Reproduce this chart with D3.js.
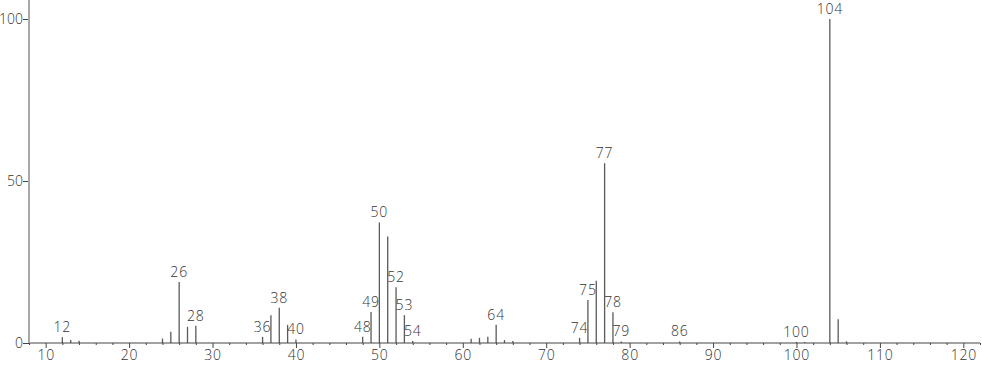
<!DOCTYPE html>
<html>
<head>
<meta charset="utf-8">
<script src="https://cdn.jsdelivr.net/npm/d3@7"></script>
<style>
  body { margin: 0; background: #fff; }
  text { font-family: "Open Sans", Lato, sans-serif; font-weight: 300; fill: #333; }
</style>
</head>
<body>
<div id="content"></div>
<script>
// m/z values and relative intensities (%)
var mz = [12, 13, 14, 24, 25, 26, 27, 28, 36, 37, 38, 39, 40,
          48, 49, 50, 51, 52, 53, 54, 61, 62, 63, 64, 65, 66,
          74, 75, 76, 77, 78, 79, 86, 100, 101, 104, 105, 106];
var intensity = [1.8, 0.9, 0.7, 1.4, 3.5, 18.8, 5.0, 5.3, 1.9, 8.6, 10.9, 5.6, 1.1,
                 1.9, 9.6, 37.2, 32.9, 17.2, 8.6, 0.6, 1.3, 1.6, 1.9, 5.6, 0.9, 0.6,
                 1.6, 13.3, 19.2, 55.5, 9.5, 0.5, 0.5, 0.3, 0.3, 100, 7.3, 0.5];
// peaks that carry a label
var labeled = [12, 26, 28, 36, 38, 40, 48, 49, 50, 52, 53, 54, 64, 74, 75, 77, 78, 79, 86, 100, 104];
var xMajor = [10, 20, 30, 40, 50, 60, 70, 80, 90, 100, 110, 120];
var yTicks = [0, 50, 100];

var width = 982, height = 365;

var x = d3.scaleLinear().domain([8, 122]).range([29, 980]);
var y = d3.scaleLinear().domain([0, 100]).range([343, 19]);

var svg = d3.select('#content').append('svg')
  .attr('width', width)
  .attr('height', height);

var peaks = mz.map(function(m, i) { return { mz: m, v: intensity[i] }; });

function styleText(sel, spacing) {
  sel.style('font-size', '14px')
    .style('font-family', '"Open Sans", Lato, sans-serif')
    .style('font-weight', 300)
    .style('letter-spacing', (spacing || 0) + 'px')
    .attr('fill', '#333');
}

// bars (sticks)
svg.append('g')
  .selectAll('line')
  .data(peaks)
  .enter().append('line')
  .attr('x1', function(d) { return x(d.mz); })
  .attr('x2', function(d) { return x(d.mz); })
  .attr('y1', y(0))
  .attr('y2', function(d) { return y(d.v); })
  .attr('stroke', '#5a5a5a')
  .attr('stroke-width', 1.3);

// peak labels
svg.append('g')
  .selectAll('text')
  .data(peaks.filter(function(d) { return labeled.indexOf(d.mz) >= 0; }))
  .enter().append('text')
  .attr('x', function(d) { return x(d.mz); })
  .attr('y', function(d) { return y(d.v) - 5; })
  .attr('text-anchor', 'middle')
  .call(styleText, 0.8)
  .text(function(d) { return d.mz; });

// x axis: minor ticks every 2
var minor = d3.range(8, 123, 2).filter(function(v) { return v % 10 !== 0; });
var xAxisG = svg.append('g').attr('transform', 'translate(0,' + y(0) + ')');
xAxisG.append('g')
  .call(d3.axisBottom(x).tickValues(minor).tickSize(2).tickFormat(''))
  .call(function(g) { g.select('.domain').remove(); })
  .selectAll('line').attr('stroke', '#444');
xAxisG.append('g')
  .call(d3.axisBottom(x).tickValues(xMajor).tickSize(5).tickPadding(2))
  .call(function(g) {
    g.select('.domain').remove();
    g.selectAll('line').attr('stroke', '#444');
    g.selectAll('text').call(styleText, 0.8);
  });
xAxisG.append('line')
  .attr('x1', x(8)).attr('x2', x(122))
  .attr('stroke', '#444').attr('stroke-width', 1);

// y axis
var yAxisG = svg.append('g').attr('transform', 'translate(' + x(8) + ',0)');
yAxisG.call(d3.axisLeft(y).tickValues(yTicks).tickSize(6).tickPadding(0))
  .call(function(g) {
    g.select('.domain').remove();
    g.selectAll('line').attr('stroke', '#444');
    g.selectAll('text').call(styleText, 0);
  });
yAxisG.append('line')
  .attr('y1', 0).attr('y2', y(0))
  .attr('stroke', '#a8a8a8').attr('stroke-width', 2);
</script>
</body>
</html>
